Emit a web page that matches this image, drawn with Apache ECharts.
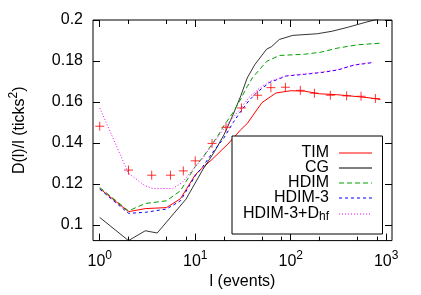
<!DOCTYPE html>
<html><head><meta charset="utf-8">
<script src="https://cdn.jsdelivr.net/npm/echarts@6/dist/echarts.min.js"></script>
<style>html,body{margin:0;padding:0;background:#fff}#c{width:421px;height:295px}</style>
</head><body><div id="c"></div>
<script>
// TIM measured points (crosses)
const ptsX = [1, 2, 3.5, 5.5, 7.5, 10, 15, 21, 30.5, 45, 62, 88, 126, 177, 260, 385, 545, 770];
const ptsY = [0.1482, 0.1268, 0.1243, 0.1243, 0.1264, 0.1313, 0.1398, 0.1477, 0.1571, 0.1633, 0.1670, 0.1672, 0.1657, 0.1643, 0.1633, 0.1630, 0.1628, 0.1617];
// TIM line
const timX = [1, 2, 3, 5, 7, 10, 12, 15, 22, 30, 35, 50, 70, 100, 140, 200, 300, 460, 680, 870];
const timY = [0.1178, 0.1065, 0.1080, 0.1085, 0.1128, 0.1245, 0.1280, 0.1320, 0.1395, 0.1465, 0.1495, 0.1597, 0.1644, 0.1655, 0.1653, 0.1640, 0.1636, 0.1628, 0.1620, 0.1612];
// CG
const cgX = [1, 2, 3, 4, 8, 12, 16, 20, 25, 30, 35, 42, 56, 63, 76, 105, 190, 270, 400, 600, 800, 900];
const cgY = [0.1037, 0.0924, 0.0972, 0.0961, 0.1126, 0.1270, 0.1360, 0.1440, 0.1540, 0.1630, 0.1717, 0.1782, 0.1858, 0.1870, 0.1905, 0.1925, 0.1933, 0.1945, 0.1965, 0.1988, 0.2003, 0.2010];
// HDIM
const hdimX = [1, 2, 3, 5, 7, 10, 12, 17, 20, 25, 30, 35, 40, 56, 76, 140, 207, 310, 500, 870];
const hdimY = [0.1183, 0.1069, 0.1105, 0.1118, 0.1167, 0.1285, 0.1330, 0.1430, 0.1485, 0.1550, 0.1615, 0.1675, 0.1720, 0.1798, 0.1827, 0.1833, 0.1843, 0.1863, 0.1879, 0.1887];
// HDIM-3
const h3X = [1, 2, 3, 5, 7, 10, 12, 15, 20, 25, 30, 37, 45, 60, 90, 140, 220, 310, 460, 740];
const h3Y = [0.1175, 0.1057, 0.1062, 0.1078, 0.1118, 0.1240, 0.1285, 0.1350, 0.1425, 0.1500, 0.1555, 0.1610, 0.1650, 0.1695, 0.1727, 0.1735, 0.1745, 0.1756, 0.1780, 0.1793];
// HDIM-3+Dhf
const hfX = [1, 2, 3, 3.6, 5.8, 7.3, 10, 12, 15, 20, 25, 30, 37, 45, 60, 90, 140, 220, 310, 460, 740];
const hfY = [0.1571, 0.1252, 0.1191, 0.1178, 0.1178, 0.1207, 0.1285, 0.1325, 0.1390, 0.1470, 0.1525, 0.1570, 0.1625, 0.1660, 0.1700, 0.1728, 0.1737, 0.1747, 0.1758, 0.1781, 0.1795];

const xMajor = [1, 10, 100, 1000];
const xMinor = [2, 5, 8, 20, 50, 80, 200, 500, 800];
const yTicks = [0.1, 0.12, 0.14, 0.16, 0.18, 0.2];

const zip = (xs, ys) => xs.map((x, i) => [x, ys[i]]);
const FONT = 'Liberation Sans, Arial, sans-serif';
const xMin = 0.85, xMax = 1150, yMin = 0.0924, yMax = 0.2;

function xAxisDef(pos, ticks, len, labels) {
  return {
    type: 'log', position: pos, min: xMin, max: xMax, logBase: 10,
    axisLine: { show: false, onZero: false },
    splitLine: { show: false },
    axisTick: { show: true, inside: true, length: len, customValues: ticks, lineStyle: { color: '#000', width: 1 } },
    axisLabel: labels ? {
      show: true, customValues: xMajor, margin: 9, color: '#000', fontFamily: FONT, fontSize: 16,
      formatter: v => '10{sup|' + Math.round(Math.log10(v)) + '}',
      rich: { sup: { fontSize: 12, fontFamily: FONT, color: '#000', padding: [0, 0, 11, 0] } }
    } : { show: false },
    name: labels ? 'l (events)' : '',
    nameLocation: 'middle', nameGap: 32,
    nameTextStyle: { color: '#000', fontFamily: FONT, fontSize: 16 }
  };
}
function yAxisDef(pos, labels) {
  return {
    type: 'value', position: pos, min: yMin, max: yMax,
    axisLine: { show: false, onZero: false },
    splitLine: { show: false },
    axisTick: { show: true, inside: true, length: 7, customValues: yTicks, lineStyle: { color: '#000', width: 1 } },
    axisLabel: labels ? {
      show: true, customValues: yTicks, margin: 10, color: '#000', fontFamily: FONT, fontSize: 16,
      formatter: v => String(Math.round(v * 100) / 100)
    } : { show: false },
    name: labels ? 'D(l)/l (ticks{sup|2})' : '',
    nameLocation: 'middle', nameGap: 62, nameRotate: 90,
    nameTextStyle: { color: '#000', fontFamily: FONT, fontSize: 16,
      rich: { sup: { fontSize: 12, fontFamily: FONT, color: '#000', padding: [0, 0, 11, 0] } } }
  };
}

const chart = echarts.init(document.getElementById('c'), null, { renderer: 'canvas' });
const lineSeries = (name, xs, ys, color, type, w) => ({
  name, type: 'line', data: zip(xs, ys), symbol: 'none', clip: true, z: 3,
  lineStyle: { color, width: w || 1, type: type || 'solid' },
  itemStyle: { color }
});
chart.setOption({
  animation: false,
  backgroundColor: '#fff',
  grid: { left: 90, right: 29, top: 20, bottom: 53, show: true, borderColor: '#000', borderWidth: 1, backgroundColor: 'transparent' },
  xAxis: [
    xAxisDef('bottom', xMajor, 7, true),
    xAxisDef('bottom', xMinor, 4, false),
    xAxisDef('top', xMajor, 7, false),
    xAxisDef('top', xMinor, 4, false)
  ],
  yAxis: [yAxisDef('left', true), yAxisDef('right', false)],
  legend: {
    show: true, orient: 'vertical', align: 'right',
    left: 232, top: 136, width: 150,
    padding: [9, 10, 11, 7],
    itemWidth: 33, itemHeight: 10, itemGap: -1,
    itemStyle: { opacity: 0 },
    lineStyle: { width: 1 },
    backgroundColor: '#fff', borderColor: '#000', borderWidth: 1, borderRadius: 0,
    data: ['TIM', 'CG', 'HDIM', 'HDIM-3', 'HDIM-3+Dhf'],
    formatter: n => n === 'HDIM-3+Dhf' ? 'HDIM-3+D{sub|hf}' : n,
    textStyle: { color: '#000', fontFamily: FONT, fontSize: 16, width: 90, align: 'right', lineHeight: 16, padding: [0, 5, 0, 0],
      rich: { sub: { fontSize: 12, fontFamily: FONT, color: '#000', lineHeight: 16, padding: [6, 0, 0, 0] } } }
  },
  series: [
    lineSeries('TIM', timX, timY, '#ff0000', 'solid', 1),
    lineSeries('CG', cgX, cgY, '#000000', 'solid', 0.8),
    lineSeries('HDIM', hdimX, hdimY, '#00a000', [5, 3], 1),
    lineSeries('HDIM-3', h3X, h3Y, '#0000ff', [3, 3], 1),
    lineSeries('HDIM-3+Dhf', hfX, hfY, '#ff00ff', [1, 2], 1),
    {
      name: 'TIM pts', type: 'scatter', data: zip(ptsX, ptsY), z: 4,
      symbol: 'path://M0,5L10,5M5,0L5,10', symbolSize: 9,
      itemStyle: { color: 'rgba(0,0,0,0)', borderColor: '#ff0000', borderWidth: 1 }
    }
  ]
});
</script>
</body></html>
